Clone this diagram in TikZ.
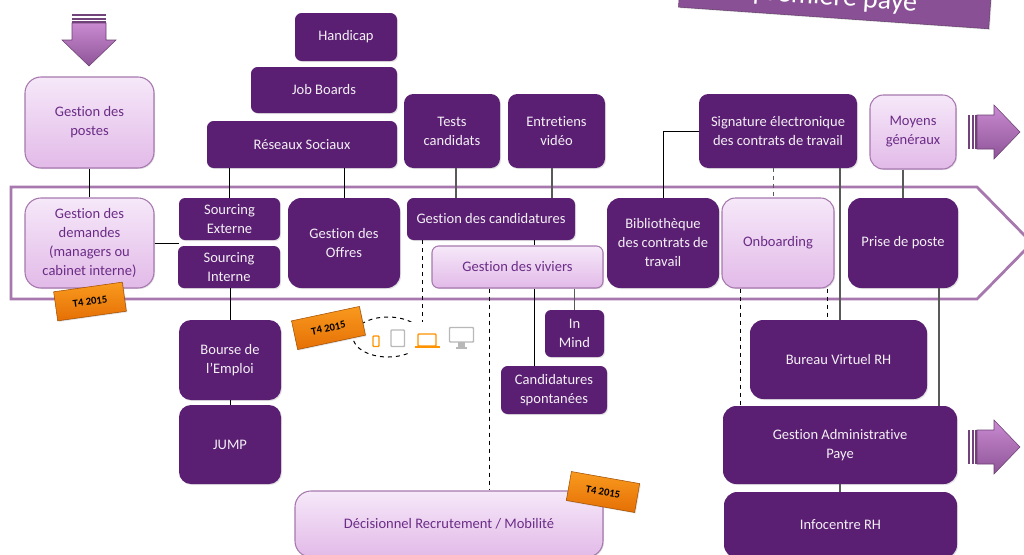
\documentclass[tikz,border=0pt]{standalone}
\usepackage{fontspec}
\setmainfont[Ligatures=NoCommon]{Carlito}
\usetikzlibrary{shadows}
\definecolor{darkplum}{HTML}{5A1F72}
\definecolor{lightplum}{HTML}{A678AE}
\definecolor{textplum}{HTML}{6B2C86}
\definecolor{paletop}{HTML}{F6E8F9}
\definecolor{palebottom}{HTML}{E2BAE8}
\definecolor{arrowtop}{HTML}{C98AD0}
\definecolor{arrowbottom}{HTML}{8E5498}
\definecolor{tagtop}{HTML}{F99A1E}
\definecolor{tagbottom}{HTML}{E56F05}
\tikzset{
  boxsize/.style 2 args={minimum width=#1*.75pt,minimum height=#2*.75pt},
  softshadow/.style={drop shadow={opacity=.22,shadow xshift=.8pt,shadow yshift=-.8pt}},
  darkbox/.style={softshadow,fill=darkplum,text=white!93!darkplum,rounded corners=7pt,inner sep=0pt,align=center,
    font=\fontsize{10.9}{14.25}\selectfont},
  lightbox/.style={softshadow,draw=lightplum,line width=.8pt,top color=paletop,bottom color=palebottom,
    text=textplum,rounded corners=10pt,inner sep=0pt,align=center,font=\fontsize{10.9}{14.25}\selectfont},
  tag/.style={softshadow,draw=tagbottom!70!black,top color=tagtop,bottom color=tagbottom,minimum width=52pt,minimum height=22pt,
    inner sep=0pt,font=\fontsize{8}{9}\bfseries\selectfont},
  link/.style={line width=.75pt,black},
  graylink/.style={line width=.85pt,black!65},
  dashlink/.style={line width=.75pt,black,dash pattern=on 3pt off 3pt},
  icongray/.style={draw=black!28,line width=1.1pt,rounded corners=.6pt},
  iconorange/.style={draw=orange!85!yellow,line width=1.1pt,rounded corners=.6pt},
}
\begin{document}
\begin{tikzpicture}[x=.75pt,y=-.75pt]
\useasboundingbox (0,0) rectangle (1024,554);
\clip (0,0) rectangle (1024,554);
% title, cut by the page
\node[softshadow,draw=arrowbottom!70!black,fill=arrowbottom!92!darkplum,text=white,rotate=-4,
  boxsize={311}{40},inner sep=0pt,font=\fontsize{21}{24}\selectfont] (title) at (835,-2) {première paye};
% process band
\draw[lightplum,line width=2.1pt] (11,187) -- (977,187) -- (1032,243) -- (977,299) -- (11,299) -- cycle;
% big arrows
\foreach \ax/\ay/\ang in {968/132/0,968/447/0,89/14/-90}{
\begin{scope}[shift={(\ax,\ay)},rotate=\ang]
\foreach \sx in {0,3.5,7}
\fill[arrowbottom!80!black] (\sx,-17) rectangle +(2,34);
\draw[arrowbottom!75!black,line width=.4pt,top color=arrowtop,bottom color=arrowbottom]
  (9,-17) -- (26,-17) -- (26,-27) -- (52,0) -- (26,27) -- (26,17) -- (9,17) -- cycle;
\end{scope}
}
% column of each line
\coordinate (colTests) at (456,0);
\coordinate (colVideo) at (552,0);
\coordinate (colVivier) at (534,0);
\coordinate (colDevice) at (422,0);
\coordinate (colDeci) at (489,0);
\coordinate (colOnbA) at (773,0);
\coordinate (colOnbB) at (740,0);
\coordinate (colOnbC) at (827,0);
\coordinate (colBureau) at (840,0);
\coordinate (colPrise) at (939,0);
% boxes
\node[lightbox,boxsize={129}{91},rounded corners=12pt] (postes) at (89.5,122.5) {Gestion des\\postes};
\node[lightbox,boxsize={129}{90},rounded corners=12pt] (demandes) at (89.5,243) {Gestion des\\demandes\\(managers ou\\cabinet interne)};
\node[darkbox,boxsize={101}{42},rounded corners=4.5pt] (srcext) at (229.5,219) {Sourcing\\Externe};
\node[darkbox,boxsize={102}{42},rounded corners=4.5pt] (srcint) at (229,267) {Sourcing\\Interne};
\node[darkbox,boxsize={102}{80},rounded corners=9pt] (bourse) at (230,360) {Bourse de\\l’Emploi};
\node[darkbox,boxsize={102}{79},rounded corners=9pt] (jump) at (230,444.5) {JUMP};
\node[darkbox,boxsize={102}{48},rounded corners=5pt] (handicap) at (346,37) {Handicap};
\node[darkbox,boxsize={146}{46},rounded corners=5pt] (jobboards) at (324,90) {Job Boards};
\node[darkbox,boxsize={190}{47},rounded corners=5pt] (reseaux) at (302,144.5) {Réseaux Sociaux};
\node[darkbox,boxsize={112}{90},rounded corners=10pt] (offres) at (344,243) {Gestion des\\Offres};
\node[darkbox,boxsize={96}{74}] (tests) at (452,131) {Tests\\candidats};
\node[darkbox,boxsize={97}{74}] (video) at (556.5,131) {Entretiens\\vidéo};
\node[darkbox,boxsize={168}{42},rounded corners=5pt] (candid) at (491,219) {Gestion des candidatures};
\node[lightbox,boxsize={171}{42},rounded corners=5pt] (viviers) at (517.5,267) {Gestion des viviers};
\node[darkbox,boxsize={59}{47},rounded corners=4.5pt] (inmind) at (574.5,333.5) {In\\Mind};
\node[darkbox,boxsize={106}{48},rounded corners=5pt] (spont) at (554,390) {Candidatures\\spontanées};
\node[darkbox,boxsize={112}{90},rounded corners=10pt] (biblio) at (663,243) {Bibliothèque\\des contrats de\\travail};
\node[lightbox,boxsize={112}{90},rounded corners=10pt] (onboard) at (778,243) {Onboarding};
\node[darkbox,boxsize={110}{90},rounded corners=10pt] (prise) at (903,243) {Prise de poste};
\node[darkbox,boxsize={158}{74}] (signature) at (778,131) {Signature électronique\\des contrats de travail};
\node[lightbox,boxsize={86}{74}] (moyens) at (913,132) {Moyens\\généraux};
\node[darkbox,boxsize={177}{79},rounded corners=10pt] (bureau) at (838.5,359.5) {Bureau Virtuel RH};
\node[darkbox,boxsize={234}{78},rounded corners=10pt] (admin) at (840,445) {Gestion Administrative\\Paye};
\node[darkbox,boxsize={233}{66},rounded corners=10pt] (infocentre) at (840.5,525) {Infocentre RH};
\node[lightbox,boxsize={308}{66},rounded corners=12pt] (decision) at (449,524) {Décisionnel Recrutement / Mobilité};
% connectors
\draw[link] (postes) -- (demandes);
\draw[link] (demandes.east) -- (demandes.east -| srcext.west);
\draw[link] (reseaux.south -| srcext.north) -- (srcext.north);
\draw[link] (reseaux.south -| offres.north) -- (offres.north);
\draw[link] (srcint.south -| bourse.north) -- (bourse.north);
\draw[link] (bourse) -- (jump);
\draw[graylink] (tests.south -| colTests) -- (candid.north -| colTests);
\draw[graylink] (video.south -| colVideo) -- (candid.north -| colVideo);
\draw[link] (candid.south -| colVivier) -- (viviers.north -| colVivier);
\draw[link] (viviers.south -| colVivier) -- (spont.north -| colVivier);
\draw[graylink] (viviers.south -| inmind.north) -- (inmind.north);
\draw[link] (biblio.north) |- (signature.west);
\draw[graylink] (signature.south -| colBureau) -- (bureau.north -| colBureau);
\draw[graylink] (moyens.south -| prise.north) -- (prise.north);
\draw[graylink] (prise.south -| colPrise) -- (admin.north -| colPrise);
\draw[graylink] (admin.south -| colBureau) -- (infocentre.north -| colBureau);
\draw[dashlink,black!65] (signature.south -| colOnbA) -- (onboard.north -| colOnbA);
\draw[dashlink] (onboard.south -| colOnbB) -- (admin.north -| colOnbB);
\draw[dashlink] (onboard.south -| colOnbC) -- (bureau.north -| colOnbC);
\draw[dashlink] (viviers.south -| colDeci) -- (decision.north -| colDeci);
% devices
\draw[dashlink] (388,337) ellipse (35 and 20);
\fill[white] (407,322) rectangle (478,353);
\coordinate (deviceTop) at (422,322);
\draw[dashlink] (candid.south -| colDevice) -- (deviceTop);
\draw[iconorange] (373,336) rectangle (379,346.5);
\draw[icongray] (391,330) rectangle (404.5,346.5);
\draw[iconorange] (418,334) rectangle (436,346);
\draw[iconorange] (415,347) -- (440,347);
\draw[icongray] (449.5,327.5) rectangle (473.5,342);
\fill[black!28] (458,342) rectangle (465,347);
\fill[black!28] (456,347) rectangle (467,348.5);
% tags
\foreach \tx/\ty/\ang/\tagname in {90/301.5/8/tagA,328.5/328/12/tagB,603/492/-10/tagC}
\node[tag,rotate=\ang] (\tagname) at (\tx,\ty) {T4 2015};
\end{tikzpicture}
\end{document}
